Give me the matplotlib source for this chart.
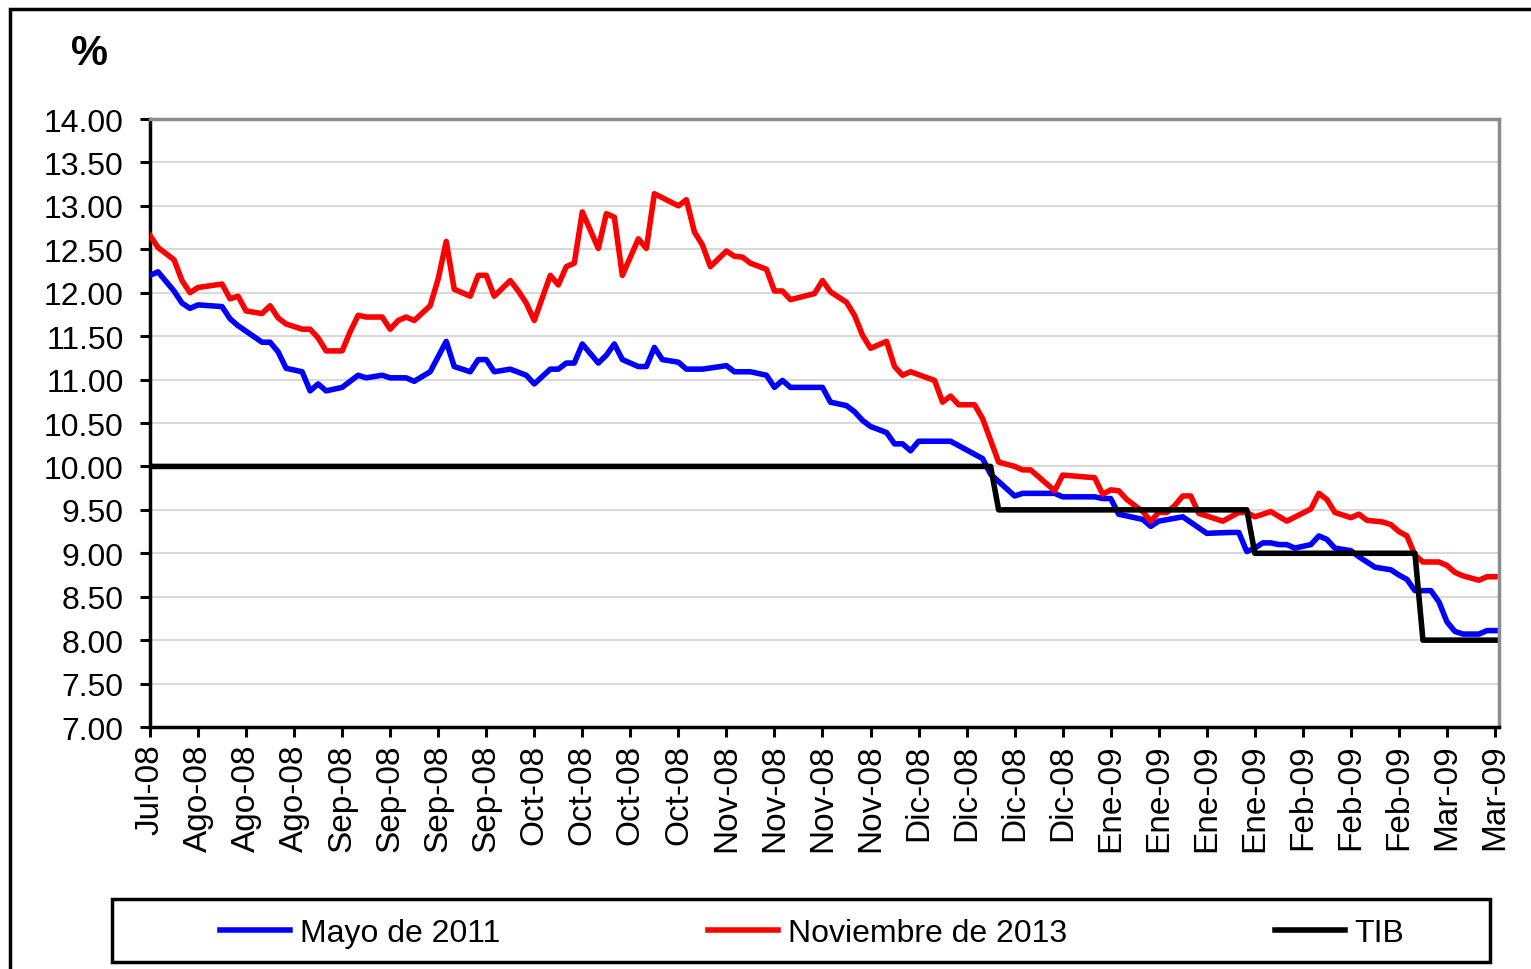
import numpy as np
import matplotlib
matplotlib.use("Agg")
import matplotlib.pyplot as plt
from matplotlib.patches import Rectangle

plt.rcParams["font.family"] = ["Liberation Sans", "DejaVu Sans"]

# dias habiles desde el inicio de la serie (una etiqueta cada 6 dias)
tick_labels = ["Jul-08", "Ago-08", "Ago-08", "Ago-08",
               "Sep-08", "Sep-08", "Sep-08", "Sep-08",
               "Oct-08", "Oct-08", "Oct-08", "Oct-08",
               "Nov-08", "Nov-08", "Nov-08", "Nov-08",
               "Dic-08", "Dic-08", "Dic-08", "Dic-08",
               "Ene-09", "Ene-09", "Ene-09", "Ene-09",
               "Feb-09", "Feb-09", "Feb-09", "Mar-09", "Mar-09"]
tick_step = 6

# Mayo de 2011
mayo_dias = [0, 1, 3, 4, 5, 6, 9, 10, 11, 14, 15, 16, 17, 19, 20, 21, 22, 24, 26, 27,
             29, 30, 32, 33, 35, 37, 38, 40, 41, 42, 43, 45, 47, 48, 50, 51, 52, 53, 54, 56,
             57, 58, 59, 61, 62, 63, 64, 66, 67, 69, 72, 73, 75, 77, 78, 79, 80, 84, 85, 87,
             88, 89, 90, 92, 93, 94, 95, 96, 100, 103, 104, 105, 108, 109, 113, 114, 118, 119, 120, 121,
             124, 125, 126, 129, 132, 135, 136, 137, 138, 139, 140, 141, 142, 143, 145, 146, 147, 148, 150, 151,
             153, 155, 156, 157, 158, 160, 161, 162, 163, 164, 166, 167, 168]
mayo_vals = [12.20, 12.24, 12.02, 11.88, 11.82, 11.86, 11.84, 11.70, 11.62, 11.43, 11.43, 11.32, 11.13, 11.09, 10.87, 10.95, 10.87, 10.91, 11.05, 11.02,
             11.05, 11.02, 11.02, 10.98, 11.09, 11.44, 11.15, 11.09, 11.23, 11.23, 11.09, 11.12, 11.05, 10.95, 11.12, 11.12, 11.19, 11.19, 11.41, 11.19,
             11.28, 11.41, 11.23, 11.15, 11.15, 11.37, 11.23, 11.20, 11.12, 11.12, 11.16, 11.09, 11.09, 11.05, 10.91, 10.99, 10.91, 10.91, 10.74, 10.70,
             10.63, 10.53, 10.46, 10.39, 10.26, 10.26, 10.18, 10.29, 10.29, 10.14, 10.09, 9.91, 9.66, 9.69, 9.69, 9.65, 9.65, 9.63, 9.63, 9.45,
             9.39, 9.31, 9.37, 9.42, 9.23, 9.24, 9.24, 9.02, 9.06, 9.12, 9.12, 9.10, 9.10, 9.06, 9.10, 9.20, 9.16, 9.06, 9.03, 8.96,
             8.84, 8.81, 8.75, 8.70, 8.57, 8.57, 8.44, 8.21, 8.10, 8.07, 8.07, 8.11, 8.11]

# Noviembre de 2013
nov_dias = [0, 1, 3, 4, 5, 6, 9, 10, 11, 12, 14, 15, 16, 17, 19, 20, 21, 22, 24, 25,
            26, 27, 29, 30, 31, 32, 33, 35, 36, 37, 38, 40, 41, 42, 43, 45, 46, 47, 48, 50,
            51, 52, 53, 54, 56, 57, 58, 59, 61, 62, 63, 66, 67, 68, 69, 70, 72, 73, 74, 75,
            77, 78, 79, 80, 83, 84, 85, 87, 88, 89, 90, 92, 93, 94, 95, 98, 99, 100, 101, 103,
            104, 105, 106, 108, 109, 110, 113, 114, 118, 119, 120, 121, 122, 124, 125, 126, 127, 128, 129, 130,
            131, 134, 136, 137, 138, 139, 140, 142, 145, 146, 147, 148, 150, 151, 152, 154, 155, 156, 157, 158,
            159, 161, 162, 163, 164, 166, 167, 168]
nov_vals = [12.66, 12.52, 12.38, 12.14, 12.00, 12.06, 12.10, 11.93, 11.96, 11.79, 11.76, 11.85, 11.71, 11.64, 11.58, 11.58, 11.48, 11.33, 11.33, 11.55,
            11.74, 11.72, 11.72, 11.58, 11.68, 11.72, 11.68, 11.85, 12.16, 12.59, 12.04, 11.96, 12.20, 12.20, 11.96, 12.14, 12.02, 11.88, 11.68, 12.20,
            12.09, 12.30, 12.34, 12.93, 12.51, 12.91, 12.87, 12.20, 12.62, 12.51, 13.14, 13.00, 13.07, 12.70, 12.55, 12.30, 12.48, 12.42, 12.41, 12.34,
            12.27, 12.02, 12.02, 11.92, 11.99, 12.14, 12.01, 11.89, 11.74, 11.51, 11.36, 11.44, 11.15, 11.05, 11.09, 10.99, 10.74, 10.81, 10.71, 10.71,
            10.55, 10.30, 10.05, 10.00, 9.96, 9.96, 9.72, 9.90, 9.87, 9.68, 9.73, 9.72, 9.62, 9.48, 9.37, 9.47, 9.47, 9.55, 9.66, 9.66,
            9.46, 9.37, 9.47, 9.47, 9.42, 9.45, 9.48, 9.37, 9.51, 9.69, 9.62, 9.47, 9.41, 9.45, 9.38, 9.36, 9.33, 9.25, 9.20, 8.98,
            8.90, 8.90, 8.86, 8.78, 8.74, 8.69, 8.73, 8.73]

# TIB (tasa de intervencion)
tib_dias = [0, 105, 106, 137, 138, 158, 159, 168]
tib_vals = [10.00, 10.00, 9.50, 9.50, 9.00, 9.00, 8.00, 8.00]

W, H = 1531, 970
fig = plt.figure(figsize=(W / 100, H / 100), dpi=100)
ax = fig.add_axes([150 / W, 1 - 728 / H, (1499 - 150) / W, (728 - 120) / H])

ax.plot(mayo_dias, mayo_vals, color="#0000ff", lw=4, label="Mayo de 2011", zorder=3)
ax.plot(nov_dias, nov_vals, color="#ff0000", lw=4, label="Noviembre de 2013", zorder=3)
ax.plot(tib_dias, tib_vals, color="black", lw=4, label="TIB", zorder=4)

ax.set_xlim(0, 168.5)
ax.set_ylim(7, 14)
yt = np.arange(7, 14.01, 0.5)
ax.set_yticks(yt)
ax.set_yticklabels([f"{v:.2f}" for v in yt], fontsize=23)
ax.set_xticks(np.arange(len(tick_labels)) * tick_step)
ax.set_xticklabels(tick_labels, rotation=90, fontsize=24)
ax.tick_params(axis="both", direction="out", length=7, width=2.2, color="black")
ax.tick_params(axis="y", pad=12)
ax.tick_params(axis="x", pad=5)

# cuadricula
ax.grid(axis="y", color="#d9d9d9", lw=1.5)
ax.set_axisbelow(True)

for side in ["left", "bottom"]:
    ax.spines[side].set_color("black")
    ax.spines[side].set_linewidth(2.5)
for side in ["top", "right"]:
    ax.spines[side].set_color("#8c8c8c")
    ax.spines[side].set_linewidth(2.5)

fig.text(90 / W, 1 - 54 / H, "%", fontsize=30, fontweight="bold", ha="center", va="center")

# marco exterior
fig.patches.append(Rectangle((10 / W, -0.1), 1.2, 1.1 - 10 / H, transform=fig.transFigure,
                             fill=False, edgecolor="black", lw=2.5))
# marco de la leyenda
fig.patches.append(Rectangle((112 / W, 1 - 963 / H), (1490 - 112) / W, (963 - 900) / H,
                             transform=fig.transFigure, fill=False, edgecolor="black", lw=2.5))

fig.legend(loc="center left", bbox_to_anchor=(220 / W, 1 - 934 / H), ncol=3,
           frameon=False, fontsize=23, handlelength=2.2, handletextpad=0.3,
           columnspacing=6.5, borderaxespad=0, borderpad=0)

fig.savefig("out.png", dpi=100)
